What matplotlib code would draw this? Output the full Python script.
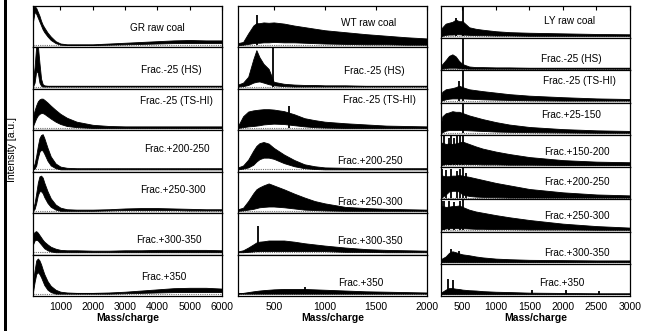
import matplotlib
matplotlib.use("Agg")
import matplotlib.pyplot as plt
from matplotlib.patches import Rectangle

plt.rcParams['font.family'] = ['Liberation Sans', 'DejaVu Sans']

# ---------------- GR coal (m/z 150-6000) ----------------
gr_mz = [150, 200, 250, 300, 350, 400, 450, 500, 600, 700, 850, 1000, 1200,
         1500, 2000, 2500, 3000, 3500, 4000, 4500, 5000, 5500, 6000]
gr_labels = ['GR raw coal', 'Frac.-25 (HS)', 'Frac.-25 (TS-HI)', 'Frac.+200-250',
             'Frac.+250-300', 'Frac.+300-350', 'Frac.+350']
gr_upper = [
    [0.95, 1.0, 0.95, 0.85, 0.75, 0.62, 0.52, 0.45, 0.32, 0.22, 0.10, 0.04, 0.02,
     0.02, 0.02, 0.04, 0.06, 0.08, 0.10, 0.12, 0.13, 0.12, 0.12],
    [0.15, 0.5, 1.05, 1.05, 0.6, 0.2, 0.06, 0.03, 0.02, 0.02, 0.02, 0.02, 0.02,
     0.02, 0.02, 0.02, 0.02, 0.02, 0.02, 0.02, 0.02, 0.02, 0.02],
    [0.3, 0.45, 0.58, 0.68, 0.73, 0.75, 0.75, 0.72, 0.65, 0.57, 0.46, 0.36, 0.26,
     0.16, 0.08, 0.05, 0.04, 0.04, 0.04, 0.04, 0.04, 0.04, 0.04],
    [0.05, 0.15, 0.35, 0.6, 0.8, 0.88, 0.9, 0.8, 0.55, 0.33, 0.15, 0.07, 0.04,
     0.03, 0.03, 0.03, 0.03, 0.03, 0.03, 0.03, 0.03, 0.03, 0.03],
    [0.05, 0.2, 0.45, 0.72, 0.88, 0.9, 0.85, 0.72, 0.5, 0.32, 0.16, 0.08, 0.04,
     0.03, 0.03, 0.04, 0.06, 0.07, 0.07, 0.06, 0.05, 0.04, 0.04],
    [0.45, 0.52, 0.54, 0.5, 0.44, 0.38, 0.32, 0.27, 0.2, 0.14, 0.09, 0.06, 0.05,
     0.05, 0.04, 0.04, 0.05, 0.05, 0.06, 0.06, 0.06, 0.06, 0.05],
    [0.3, 0.6, 0.85, 0.9, 0.85, 0.75, 0.62, 0.5, 0.32, 0.2, 0.1, 0.05, 0.03,
     0.02, 0.02, 0.03, 0.05, 0.08, 0.11, 0.14, 0.15, 0.15, 0.13],
]
gr_lower = [
    [0.6, 0.85, 0.8, 0.7, 0.6, 0.5, 0.4, 0.33, 0.22, 0.13, 0.05, 0.01, 0, 0, 0,
     0.01, 0.02, 0.03, 0.04, 0.05, 0.05, 0.05, 0.05],
    [0, 0.1, 0.4, 0.35, 0.1, 0.02, 0, 0, 0, 0, 0, 0, 0, 0, 0, 0, 0, 0, 0, 0, 0, 0, 0],
    [0.05, 0.15, 0.25, 0.32, 0.36, 0.38, 0.38, 0.36, 0.3, 0.24, 0.16, 0.1, 0.05,
     0.02, 0, 0, 0, 0, 0, 0, 0, 0, 0],
    [0, 0.02, 0.1, 0.3, 0.45, 0.5, 0.48, 0.4, 0.22, 0.1, 0.03, 0, 0, 0, 0, 0, 0,
     0, 0, 0, 0, 0, 0],
    [0, 0.05, 0.2, 0.4, 0.5, 0.5, 0.45, 0.35, 0.2, 0.1, 0.03, 0, 0, 0, 0, 0.01,
     0.02, 0.02, 0.02, 0.02, 0.01, 0.01, 0.01],
    [0.2, 0.3, 0.32, 0.3, 0.25, 0.2, 0.15, 0.1, 0.05, 0.02, 0, 0, 0, 0, 0, 0, 0,
     0, 0, 0, 0, 0, 0],
    [0.05, 0.3, 0.5, 0.55, 0.5, 0.42, 0.32, 0.22, 0.1, 0.04, 0, 0, 0, 0, 0, 0,
     0.01, 0.02, 0.03, 0.04, 0.04, 0.04, 0.04],
]
gr_spikes = []  # (strip, m/z, height)

# ---------------- WT coal (m/z 150-2000) ----------------
wt_mz = [150, 200, 250, 300, 330, 360, 400, 450, 500, 600, 700, 800, 900, 1000,
         1200, 1400, 1600, 1800, 2000]
wt_labels = ['WT raw coal', 'Frac.-25 (HS)', 'Frac.-25 (TS-HI)', 'Frac.+200-250',
             'Frac.+250-300', 'Frac.+300-350', 'Frac.+350']
wt_upper = [
    [0.05, 0.08, 0.3, 0.5, 0.56, 0.56, 0.58, 0.57, 0.58, 0.55, 0.5, 0.46, 0.42,
     0.38, 0.33, 0.28, 0.24, 0.2, 0.17],
    [0.05, 0.1, 0.25, 0.7, 0.93, 0.75, 0.58, 0.45, 0.12, 0.07, 0.05, 0.04, 0.04,
     0.03, 0.03, 0.02, 0.02, 0.02, 0.02],
    [0.05, 0.3, 0.42, 0.45, 0.46, 0.47, 0.48, 0.48, 0.47, 0.43, 0.35, 0.25, 0.2,
     0.16, 0.12, 0.09, 0.06, 0.05, 0.04],
    [0.05, 0.1, 0.25, 0.48, 0.6, 0.67, 0.7, 0.66, 0.55, 0.38, 0.24, 0.13, 0.08,
     0.05, 0.04, 0.03, 0.03, 0.03, 0.03],
    [0.04, 0.08, 0.25, 0.45, 0.55, 0.6, 0.65, 0.7, 0.65, 0.55, 0.44, 0.34, 0.25,
     0.19, 0.1, 0.07, 0.05, 0.04, 0.03],
    [0.02, 0.05, 0.12, 0.2, 0.25, 0.27, 0.28, 0.3, 0.3, 0.3, 0.27, 0.23, 0.2,
     0.17, 0.12, 0.08, 0.06, 0.05, 0.04],
    [0.01, 0.02, 0.04, 0.06, 0.07, 0.08, 0.09, 0.1, 0.11, 0.12, 0.12, 0.12, 0.11,
     0.1, 0.08, 0.06, 0.05, 0.04, 0.03],
]
wt_lower = [
    [0, 0.01, 0.03, 0.05, 0.06, 0.06, 0.07, 0.07, 0.08, 0.07, 0.07, 0.06, 0.05,
     0.04, 0.03, 0.02, 0.02, 0.01, 0.01],
    [0, 0.01, 0.04, 0.1, 0.12, 0.13, 0.1, 0.06, 0.03, 0.01, 0, 0, 0, 0, 0, 0, 0, 0, 0],
    [0, 0.02, 0.04, 0.05, 0.06, 0.07, 0.09, 0.1, 0.11, 0.1, 0.07, 0.04, 0.02, 0.01,
     0, 0, 0, 0, 0],
    [0, 0.02, 0.05, 0.12, 0.2, 0.26, 0.3, 0.3, 0.27, 0.16, 0.08, 0.03, 0.01, 0, 0,
     0, 0, 0, 0],
    [0, 0.01, 0.03, 0.05, 0.07, 0.09, 0.1, 0.11, 0.11, 0.09, 0.06, 0.03, 0.02,
     0.01, 0, 0, 0, 0, 0],
    [0, 0, 0.01, 0.02, 0.03, 0.03, 0.03, 0.03, 0.03, 0.03, 0.03, 0.03, 0.03, 0.03,
     0.01, 0.01, 0, 0, 0],
    [0] * 19,
]
wt_spikes = [(0, 335, 0.78), (1, 490, 1.2), (2, 645, 0.55), (5, 343, 0.66),
             (6, 810, 0.17)]

# ---------------- LY coal (m/z 180-3000) ----------------
ly_mz = [180, 200, 250, 300, 350, 400, 450, 500, 600, 700, 800, 1000, 1200,
         1500, 2000, 2500, 3000]
ly_labels = ['LY raw coal', 'Frac.-25 (HS)', 'Frac.-25 (TS-HI)', 'Frac.+25-150',
             'Frac.+150-200', 'Frac.+200-250', 'Frac.+250-300', 'Frac.+300-350',
             'Frac.+350']
ly_upper = [
    [0.2, 0.3, 0.42, 0.45, 0.48, 0.55, 0.5, 0.5, 0.3, 0.25, 0.22, 0.17, 0.14,
     0.12, 0.1, 0.08, 0.07],
    [0.1, 0.15, 0.28, 0.42, 0.47, 0.4, 0.25, 0.15, 0.07, 0.05, 0.05, 0.04, 0.04,
     0.03, 0.03, 0.03, 0.03],
    [0.15, 0.3, 0.38, 0.4, 0.42, 0.45, 0.5, 0.45, 0.38, 0.35, 0.32, 0.27, 0.22,
     0.17, 0.12, 0.08, 0.06],
    [0.3, 0.55, 0.65, 0.68, 0.72, 0.7, 0.7, 0.66, 0.58, 0.52, 0.46, 0.36, 0.28,
     0.2, 0.13, 0.09, 0.07],
    [0.7, 0.75, 0.7, 0.72, 0.7, 0.72, 0.75, 0.78, 0.7, 0.62, 0.55, 0.45, 0.37,
     0.27, 0.17, 0.12, 0.1],
    [0.75, 0.72, 0.7, 0.7, 0.72, 0.72, 0.74, 0.72, 0.68, 0.63, 0.58, 0.48, 0.4,
     0.28, 0.17, 0.1, 0.07],
    [0.75, 0.78, 0.75, 0.76, 0.78, 0.78, 0.8, 0.75, 0.66, 0.6, 0.56, 0.48, 0.41,
     0.32, 0.2, 0.12, 0.07],
    [0.08, 0.12, 0.18, 0.3, 0.35, 0.32, 0.28, 0.25, 0.22, 0.18, 0.15, 0.11, 0.09,
     0.07, 0.06, 0.05, 0.05],
    [0.05, 0.08, 0.15, 0.2, 0.2, 0.18, 0.17, 0.15, 0.13, 0.12, 0.1, 0.08, 0.07,
     0.05, 0.04, 0.03, 0.03],
]
ly_lower = [
    [0, 0.02, 0.05, 0.06, 0.06, 0.07, 0.07, 0.06, 0.05, 0.04, 0.04, 0.03, 0.03,
     0.02, 0.02, 0.02, 0.02],
    [0, 0, 0.02, 0.03, 0.03, 0.03, 0.02, 0.01, 0, 0, 0, 0, 0, 0, 0, 0, 0],
    [0, 0.02, 0.05, 0.07, 0.08, 0.08, 0.08, 0.08, 0.07, 0.06, 0.05, 0.04, 0.03,
     0.02, 0.01, 0.01, 0.01],
    [0, 0.03, 0.08, 0.1, 0.1, 0.1, 0.1, 0.1, 0.09, 0.08, 0.07, 0.05, 0.04, 0.03,
     0.02, 0.01, 0.01],
    [0, 0.02, 0.04, 0.05, 0.05, 0.05, 0.05, 0.05, 0.04, 0.04, 0.03, 0.03, 0.02,
     0.02, 0.01, 0.01, 0.01],
    [0, 0.02, 0.1, 0.2, 0.22, 0.22, 0.2, 0.1, 0.05, 0.03, 0.02, 0.01, 0, 0, 0, 0, 0],
    [0, 0.02, 0.04, 0.05, 0.05, 0.05, 0.05, 0.05, 0.04, 0.03, 0.03, 0.02, 0.02,
     0.01, 0.01, 0, 0],
    [0] * 17,
    [0] * 17,
]
ly_spikes = [(0, 505, 1.2), (1, 505, 1.2), (2, 505, 1.2), (3, 505, 1.2),
             (4, 505, 1.2), (5, 505, 1.2), (6, 505, 1.2),
             (0, 405, 0.6), (2, 450, 0.65),
             (4, 185, 0.95), (4, 230, 0.95), (4, 300, 0.9), (4, 330, 0.95),
             (4, 380, 0.9), (4, 420, 0.95), (4, 460, 0.95),
             (5, 200, 0.95), (5, 260, 0.9), (5, 330, 0.95), (5, 420, 0.88),
             (5, 470, 0.95), (5, 560, 0.8),
             (6, 190, 0.95), (6, 220, 0.95), (6, 300, 0.95), (6, 380, 0.9),
             (6, 470, 0.95),
             (7, 330, 0.42), (7, 450, 0.35),
             (8, 285, 0.5), (8, 360, 0.45), (8, 1545, 0.15), (8, 2040, 0.15),
             (8, 2540, 0.12)]

panels = [
    (gr_mz, gr_upper, gr_lower, gr_labels, gr_spikes, (150, 6000),
     [1000, 2000, 3000, 4000, 5000, 6000],
     [0.66, 0.73, 0.76, 0.76, 0.74, 0.72, 0.69],
     [0.47, 0.46, 0.7, 0.55, 0.55, 0.36, 0.45], 33),
    (wt_mz, wt_upper, wt_lower, wt_labels, wt_spikes, (150, 2000),
     [500, 1000, 1500, 2000],
     [0.69, 0.72, 0.75, 0.70, 0.70, 0.70, 0.65],
     [0.58, 0.44, 0.72, 0.25, 0.27, 0.33, 0.32], 238),
    (ly_mz, ly_upper, ly_lower, ly_labels, ly_spikes, (180, 3000),
     [500, 1000, 1500, 2000, 2500, 3000],
     [0.68, 0.69, 0.73, 0.69, 0.72, 0.72, 0.72, 0.72, 0.64],
     [0.52, 0.37, 0.67, 0.62, 0.47, 0.55, 0.49, 0.34, 0.4], 441),
]

W, H = 651, 331
fig = plt.figure(figsize=(W / 100, H / 100), dpi=100)
top_px, bot_px, width_px = 6, 296, 189

for mz, upper, lower, labels, spikes, xlim, ticks, lx, ly, left_px in panels:
    n = len(labels)
    strip_h = (bot_px - top_px) / n
    for i in range(n):
        y_top = top_px + i * strip_h
        ax = fig.add_axes([left_px / W, 1 - (y_top + strip_h) / H,
                           width_px / W, strip_h / H])
        ax.axhline(0, color='0.45', ls=(0, (1, 1)), lw=0.8, zorder=1)
        ax.fill_between(mz, lower[i], upper[i], color='black', lw=0.6, zorder=2)
        for s, m, h in spikes:
            if s == i:
                ax.vlines(m, 0, h, color='black', lw=1.3, zorder=3)
        ax.set_xlim(*xlim)
        ax.set_ylim(-0.06, 1.0)
        ax.set_yticks([])
        ax.set_xticks(ticks)
        ax.tick_params(axis='x', direction='in', length=3, width=0.8,
                       top=(i == 0), bottom=False, labelbottom=(i == n - 1),
                       labelsize=7.5, pad=4)
        for sp in ax.spines.values():
            sp.set_linewidth(0.9)
        ax.text(lx[i], ly[i], labels[i], transform=ax.transAxes, ha='center',
                va='center', fontsize=7.2)
        if i == n - 1:
            ax.set_xlabel('Mass/charge', fontsize=7.5, fontweight='bold',
                          labelpad=1)

fig.text(12 / W, 1 - 150 / H, 'Intensity [a.u.]', rotation=90, ha='center',
         va='center', fontsize=7.5, color='black')
fig.add_artist(Rectangle((4 / W, 0), 3 / W, 1, transform=fig.transFigure,
                         facecolor='black', edgecolor='none'))

fig.savefig('out.png', dpi=100)
